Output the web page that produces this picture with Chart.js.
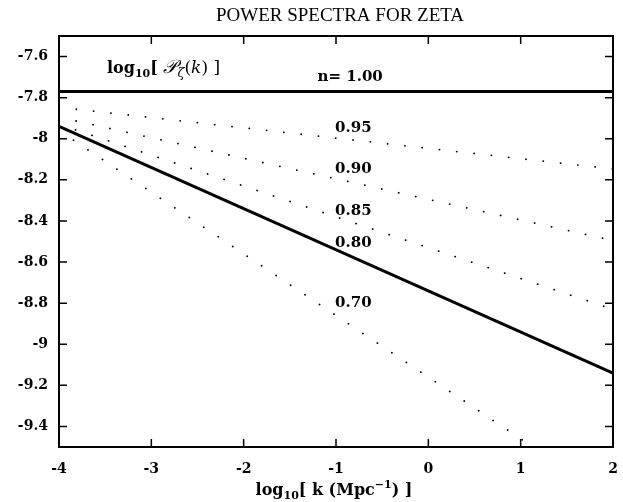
<!DOCTYPE html>
<html>
<head>
<meta charset="utf-8">
<script src="https://cdn.jsdelivr.net/npm/chart.js@4.4.1/dist/chart.umd.min.js"></script>
<style>
  html, body { margin: 0; padding: 0; background: #fff; }
  #wrap { width: 623px; height: 502px; }
</style>
</head>
<body>
<div id="wrap"><canvas id="chart" width="623" height="502"></canvas></div>
<script>
// spectral index of each curve and log10 P at both ends of the k range
const spectralIndex = ['1.00', '0.95', '0.90', '0.85', '0.80', '0.70'];
const kRange = [-4, 2];
const powerAtKmin = [-7.77, -7.847, -7.895, -7.93, -7.94, -7.96];
const powerAtKmax = [-7.77, -8.147, -8.495, -8.83, -9.14, -9.76];

const xTicks = [-4, -3, -2, -1, 0, 1, 2];
const yTicks = [-7.6, -7.8, -8, -8.2, -8.4, -8.6, -8.8, -9, -9.2, -9.4];
const yTickLabels = ['-7.6', '-7.8', '-8', '-8.2', '-8.4', '-8.6', '-8.8', '-9', '-9.2', '-9.4'];

// curve labels, placed in data coordinates
const curveLabels = [
    { text: 'n= 1.00', x: -1.2, y: -7.70 },
    { text: '0.95', x: -1.01, y: -7.95 },
    { text: '0.90', x: -1.01, y: -8.147 },
    { text: '0.85', x: -1.01, y: -8.35 },
    { text: '0.80', x: -1.01, y: -8.508 },
    { text: '0.70', x: -1.01, y: -8.80 }
];

const solidSeries = ['1.00', '0.80'];
const serif = '"DejaVu Serif", "Liberation Serif", serif';

const datasets = spectralIndex.map((n, i) => {
    const solid = solidSeries.includes(n);
    return {
        label: 'n = ' + n,
        data: [{ x: kRange[0], y: powerAtKmin[i] }, { x: kRange[1], y: powerAtKmax[i] }],
        showLine: true,
        borderColor: '#000',
        borderWidth: solid ? 3 : 1.8,
        borderDash: solid ? [] : [0.1, 17.3],
        borderCapStyle: solid ? 'butt' : 'round',
        pointRadius: 0,
        clip: 0
    };
});

function drawRich(ctx, x, y, parts, align) {
    ctx.textBaseline = 'alphabetic';
    ctx.textAlign = 'left';
    let w = 0;
    parts.forEach(p => { ctx.font = p.font; w += ctx.measureText(p.t).width; });
    let cx = align === 'center' ? x - w / 2 : x;
    parts.forEach(p => {
        ctx.font = p.font;
        ctx.fillText(p.t, cx, y + (p.dy || 0));
        cx += ctx.measureText(p.t).width;
    });
}

const framePlugin = {
    id: 'frame',
    afterDatasetsDraw(chart) {
        const ctx = chart.ctx;
        const a = chart.chartArea;
        const xs = chart.scales.x, ys = chart.scales.y;
        ctx.save();
        ctx.strokeStyle = '#000';
        ctx.lineWidth = 2;
        ctx.strokeRect(a.left, a.top, a.right - a.left, a.bottom - a.top);
        ctx.lineWidth = 1.5;
        const len = 8;
        ctx.beginPath();
        xTicks.forEach(v => {
            const px = xs.getPixelForValue(v);
            ctx.moveTo(px, a.bottom); ctx.lineTo(px, a.bottom - len);
            ctx.moveTo(px, a.top); ctx.lineTo(px, a.top + len);
        });
        yTicks.forEach(v => {
            const py = ys.getPixelForValue(v);
            ctx.moveTo(a.left, py); ctx.lineTo(a.left + len, py);
            ctx.moveTo(a.right, py); ctx.lineTo(a.right - len, py);
        });
        ctx.stroke();

        ctx.fillStyle = '#000';
        // title
        ctx.font = '19px "Liberation Serif", serif';
        ctx.textAlign = 'center';
        ctx.textBaseline = 'alphabetic';
        ctx.fillText('POWER SPECTRA FOR ZETA', 340, 21);

        // curve labels
        ctx.textAlign = 'left';
        ctx.textBaseline = 'middle';
        ctx.font = 'bold 15px ' + serif;
        curveLabels.forEach(l => {
            ctx.fillText(l.text, xs.getPixelForValue(l.x), ys.getPixelForValue(l.y));
        });

        // y quantity label
        drawRich(ctx, xs.getPixelForValue(-3.48), ys.getPixelForValue(-7.65) + 6, [
            { t: 'log', font: 'bold 16px ' + serif },
            { t: '10', font: 'bold 11px ' + serif, dy: 4 },
            { t: '[ ', font: 'bold 16px ' + serif },
            { t: '\u{1D4AB}', font: 'italic 19px ' + serif },
            { t: '\u03B6', font: 'italic 13px ' + serif, dy: 4 },
            { t: '(', font: '17px ' + serif },
            { t: 'k', font: 'italic 17px ' + serif },
            { t: ') ]', font: '17px ' + serif }
        ]);

        // x axis title
        drawRich(ctx, 334, 495, [
            { t: 'log', font: 'bold 16px ' + serif },
            { t: '10', font: 'bold 11px ' + serif, dy: 4 },
            { t: '[ k (Mpc', font: 'bold 16px ' + serif },
            { t: '\u22121', font: 'bold 11px ' + serif, dy: -7 },
            { t: ') ]', font: 'bold 16px ' + serif }
        ], 'center');
        ctx.restore();
    }
};

new Chart(document.getElementById('chart'), {
    type: 'scatter',
    data: { datasets: datasets },
    options: {
        responsive: false,
        animation: false,
        devicePixelRatio: 1,
        layout: { padding: { top: 36, right: 10, left: 0, bottom: 0 } },
        plugins: { legend: { display: false }, tooltip: { enabled: false }, title: { display: false } },
        scales: {
            x: {
                type: 'linear',
                min: kRange[0],
                max: kRange[1],
                afterBuildTicks: s => { s.ticks = xTicks.map(v => ({ value: v })); },
                afterFit: s => { s.height = 55; s.paddingLeft = 0; s.paddingRight = 0; },
                grid: { display: false, drawTicks: false },
                border: { display: false },
                ticks: { color: '#000', padding: 14, font: { family: serif, weight: 'bold', size: 14 }, callback: v => String(v) }
            },
            y: {
                type: 'linear',
                min: -9.5,
                max: -7.5,
                afterBuildTicks: s => { s.ticks = yTicks.map(v => ({ value: v })); },
                afterFit: s => { s.width = 59; s.paddingTop = 0; s.paddingBottom = 0; },
                grid: { display: false, drawTicks: false },
                border: { display: false },
                ticks: { color: '#000', padding: 11, font: { family: serif, weight: 'bold', size: 14 },
                    callback: v => yTickLabels[yTicks.indexOf(v)] }
            }
        }
    },
    plugins: [framePlugin]
});
</script>
</body>
</html>
